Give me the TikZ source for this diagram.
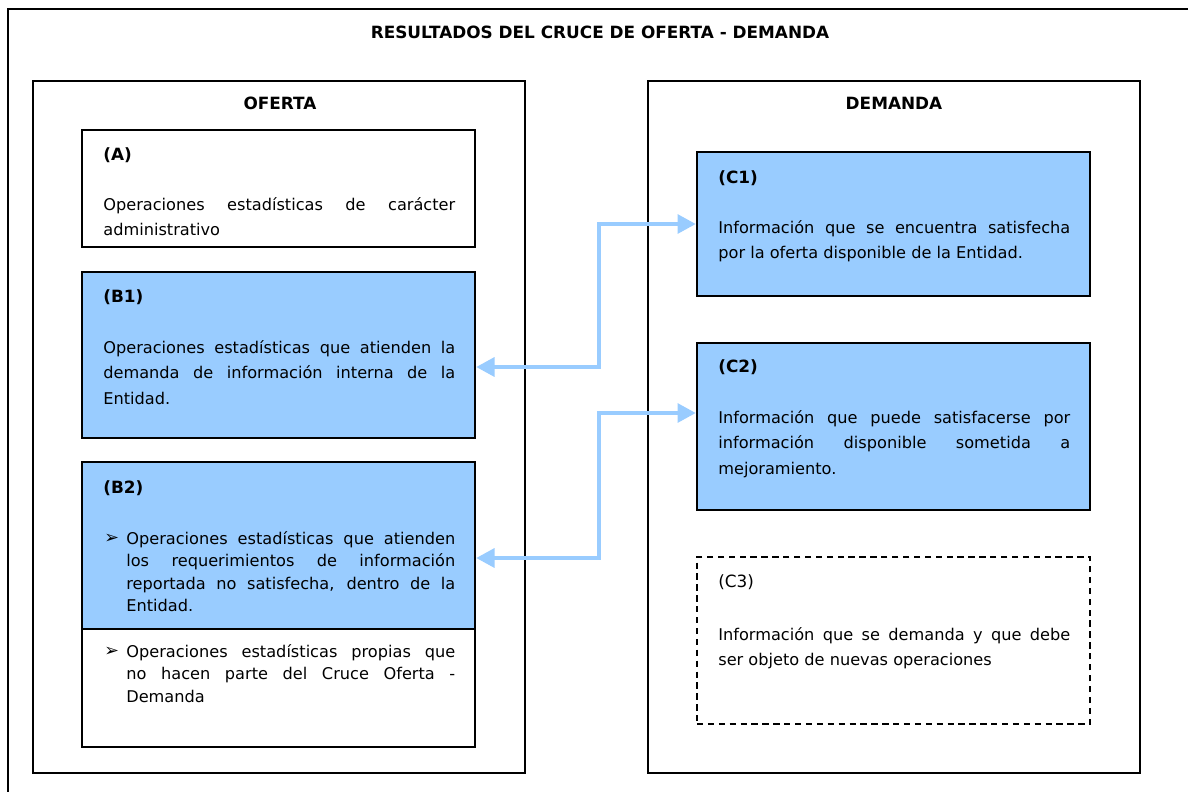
\documentclass[tikz,border=0pt]{standalone}
\usepackage{fontspec}
\setmainfont{DejaVu Sans}
\usetikzlibrary{fit,arrows.meta}
\definecolor{boxblue}{HTML}{99CCFF}
\definecolor{arrblue}{HTML}{99CCFF}
\newcommand\bodyfont{\fontsize{9.2pt}{14.63pt}\selectfont}
\newcommand\headfont{\fontsize{9.6pt}{14.63pt}\selectfont}
\newcommand\listfont{\fontsize{9.2pt}{12.87pt}\selectfont}
\tikzset{
  x=0.02cm, y=-0.02cm,
  frame/.style={draw=black, line width=1.2pt, inner sep=0pt},
  whitebox/.style={frame, fill=white},
  bluebox/.style={frame, fill=boxblue},
  dashbox/.style={draw=black, line width=1.2pt, inner sep=0pt, dash pattern=on 3.6pt off 2.6pt},
  heading/.style={font=\headfont\bfseries, inner sep=0pt, anchor=base},
  lbl/.style={font=\headfont\bfseries, inner sep=0pt, anchor=base west},
  lblplain/.style={font=\headfont, inner sep=0pt, anchor=base west},
  txt/.style={font=\bodyfont, inner sep=0pt, anchor=base west, text width=7.04cm, align=justify},
  ltxt/.style={font=\listfont, inner sep=0pt, anchor=base west, text width=6.58cm, align=justify},
  bul/.style={font=\fontsize{10pt}{12pt}\selectfont, inner sep=0pt, anchor=base west},
  link/.style={draw=arrblue, line width=2.8pt, {Triangle[length=10.5pt,width=10.5pt]}-{Triangle[length=10.5pt,width=10.5pt]}},
}
\begin{document}
\begin{tikzpicture}
\useasboundingbox (0,0) rectangle (1188,792);
\fill[white] (0,0) rectangle (1188,792);
% outer frame (cut off at right and bottom)
\node[frame, fit={(8,9) (1200,805)}] (outer) {};
\node[heading] (title) at (600,38) {RESULTADOS DEL CRUCE DE OFERTA - DEMANDA};

% OFERTA column
\node[frame, fit={(33,81) (525,773)}] (oferta) {};
\node[heading] (ofertat) at (280,109) {OFERTA};

\node[whitebox, fit={(82,130) (475,247)}] (A) {};
\node[lbl] (Al) at (103,160) {(A)};
\node[txt] (At) at (103,210) {Operaciones estadísticas de carácter\linebreak administrativo};

\node[bluebox, fit={(82,272) (475,438)}] (B1) {};
\node[lbl] (B1l) at (103,302) {(B1)};
\node[txt] (B1t) at (103,353) {Operaciones estadísticas que atienden la\linebreak demanda de información interna de la\linebreak Entidad.};

\node[whitebox, fit={(82,462) (475,747)}] (B2all) {};
\node[bluebox, fit={(82,462) (475,629)}] (B2) {};
\node[lbl] (B2l) at (103,493) {(B2)};
\node[bul] (b1) at (104,543) {➢};
\node[ltxt] (B2t) at (126,544) {Operaciones estadísticas que atienden\linebreak los requerimientos de información\linebreak reportada no satisfecha, dentro de la\linebreak Entidad.};
\node[bul] (b2) at (104,656) {➢};
\node[ltxt] (B2u) at (126,657) {Operaciones estadísticas propias que\linebreak no hacen parte del Cruce Oferta -\linebreak Demanda};

% DEMANDA column
\node[frame, fit={(648,81) (1140,773)}] (demanda) {};
\node[heading] (demandat) at (894,109) {DEMANDA};

\node[bluebox, fit={(697,152) (1090,296)}] (C1) {};
\node[lbl] (C1l) at (718,183) {(C1)};
\node[txt] (C1t) at (718,233) {Información que se encuentra satisfecha\linebreak por la oferta disponible de la Entidad.};

\node[bluebox, fit={(697,343) (1090,510)}] (C2) {};
\node[lbl] (C2l) at (718,372) {(C2)};
\node[txt] (C2t) at (718,423) {Información que puede satisfacerse por\linebreak información disponible sometida a\linebreak mejoramiento.};

\node[dashbox, fit={(697,557) (1090,724)}] (C3) {};
\node[lblplain] (C3l) at (718,587) {(C3)};
\node[txt] (C3t) at (718,640) {Información que se demanda y que debe\linebreak ser objeto de nuevas operaciones};

% connectors
\coordinate (k1) at (599,367);
\coordinate (k2) at (599,224);
\coordinate (k3) at (599,558);
\coordinate (k4) at (599,413);
\draw[link] (k1 -| B1.east) -- (k1) -- (k2) -- (k2 -| C1.west);
\draw[link] (k3 -| B2.east) -- (k3) -- (k4) -- (k4 -| C2.west);
\end{tikzpicture}
\end{document}
